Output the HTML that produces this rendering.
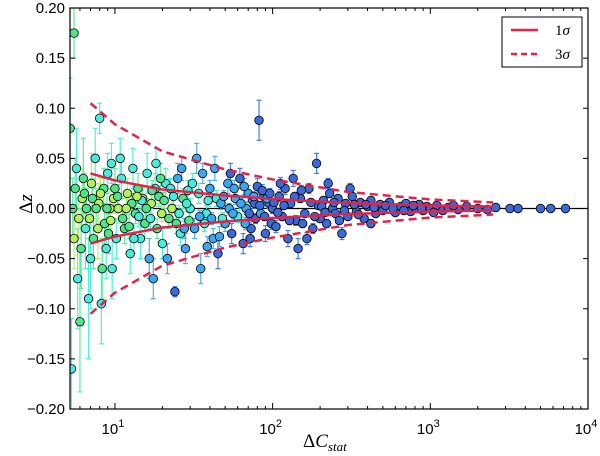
<!DOCTYPE html>
<html><head><meta charset="utf-8"><style>
body{margin:0;background:#fff}
svg{display:block;font-family:"Liberation Sans",sans-serif}
</style></head><body>
<svg id="chart" width="600" height="456" viewBox="0 0 600 456">
<g id="marks"></g>
<g id="axes"></g>
</svg>
<script>
// sigma envelope data
const sigX=[7,10,20,50,100,300,1000,2500];
const sig1=[0.035,0.028,0.019,0.013,0.0095,0.0055,0.003,0.002];
const sig3=[0.105,0.084,0.057,0.039,0.029,0.0165,0.009,0.006];
// observations: [deltaC, deltaZ, error, colourClass]
const obsPoints=[
[5.2,0.08,0.05,3],[5.5,0.175,0.025,3],[5.3,-0.16,0.05,2],[5.8,-0.07,0.05,2],[6,-0.113,0.07,3],[6.2,0.01,0.03,4],[6.5,-0.02,0.04,2],[5.6,0.02,0.03,3],[5.9,-0.01,0.02,4],[6.3,0.03,0.04,3],[6.8,-0.09,0.06,2],[7,-0.05,0.05,2],[7.2,0.01,0.02,3],[7.5,0.05,0.03,2],[7.8,-0.02,0.03,4],[8,0.09,0.015,2],[8.2,-0.095,0.04,2],[8.5,0.02,0.02,3],[8.8,-0.04,0.03,2],[9,0.035,0.02,2],[9.3,0.0,0.02,4],[9.6,-0.06,0.03,2],[10,0.02,0.02,3],[6.6,0.0,0.02,3],[7.3,-0.03,0.03,3],[7.9,0.005,0.02,4],[8.6,-0.015,0.02,3],[9.8,0.01,0.015,4],[6.1,-0.04,0.04,3],[5.4,0.0,0.03,3],[5.7,0.04,0.04,2],[7.1,0.025,0.03,4],[8.3,-0.06,0.03,3],[9.1,-0.025,0.02,3],[9.5,0.045,0.02,2],[10.2,-0.03,0.02,2],
[10.5,0.0,0.015,4],[11,0.03,0.02,2],[11.5,-0.02,0.015,3],[12,0.015,0.015,4],[12.5,-0.045,0.02,2],[13,0.04,0.02,2],[13.5,-0.005,0.01,3],[14,0.02,0.015,3],[14.5,-0.03,0.02,2],[15,0.01,0.01,4],[15.5,-0.015,0.015,3],[16,0.035,0.02,2],[16.5,-0.05,0.02,1],[17,0.005,0.01,4],[17.5,-0.07,0.02,1],[18,0.02,0.015,2],[18.5,-0.02,0.01,3],[19,0.012,0.01,3],[20,-0.035,0.015,2],[21,0.025,0.015,2],[22,-0.01,0.01,3],[23,0.0,0.01,4],[24,-0.083,0.005,0],[25,0.03,0.015,1],[26,-0.025,0.012,2],[27,0.01,0.01,3],[28,-0.04,0.015,1],[29,0.018,0.01,2],[11.2,-0.01,0.01,3],[12.8,0.005,0.01,3],[14.8,0.008,0.01,2],[16.8,-0.01,0.01,2],[19.5,0.03,0.015,3],[22.5,0.02,0.01,2],[24.5,-0.015,0.01,3],[27.5,-0.02,0.01,1],[10.8,0.05,0.02,2],[13.2,-0.03,0.015,2],[18.2,0.045,0.015,2],[21.5,-0.05,0.015,1],
[30,0.0,0.01,2],[32,-0.02,0.01,1],[34,0.015,0.01,2],[35,-0.06,0.015,1],[36,0.035,0.01,1],[38,-0.005,0.008,2],[40,0.02,0.008,1],[42,-0.03,0.01,1],[44,0.01,0.008,2],[45,-0.045,0.015,0],[47,0.005,0.006,1],[50,-0.015,0.008,1],[52,0.025,0.01,1],[55,-0.025,0.01,0],[58,0.01,0.006,1],[60,-0.008,0.006,2],[62,0.03,0.01,0],[65,-0.035,0.01,0],[68,0.0,0.006,1],[70,0.015,0.008,1],[73,-0.02,0.008,0],[75,0.008,0.006,1],[78,-0.01,0.005,0],[80,0.022,0.008,0],[84,-0.005,0.005,1],[88,0.012,0.006,0],[90,-0.025,0.008,0],[95,0.005,0.005,0],[98,-0.015,0.006,0],[31,0.025,0.01,2],[37,-0.015,0.008,2],[43,0.04,0.012,1],[48,-0.01,0.006,2],[57,0.02,0.008,1],[67,-0.015,0.006,1],[77,0.005,0.005,0],[86,0.018,0.006,0],[92,0.01,0.005,1],[33,0.05,0.015,1],[46,-0.028,0.01,1],
[82,0.088,0.02,0],[100,0.0,0.005,0],[105,-0.018,0.006,0],[110,0.012,0.005,0],[115,-0.008,0.004,0],[120,0.02,0.006,0],[125,-0.03,0.008,0],[130,0.005,0.004,0],[140,-0.012,0.005,0],[150,0.01,0.004,0],[160,-0.005,0.003,0],[170,0.02,0.005,0],[180,-0.02,0.005,0],[190,0.045,0.01,0],[195,0.003,0.003,0],[200,-0.01,0.004,0],[210,0.008,0.003,0],[220,-0.015,0.004,0],[230,0.015,0.004,0],[240,0.0,0.003,0],[250,-0.005,0.003,0],[260,0.01,0.003,0],[275,-0.025,0.006,0],[290,0.005,0.003,0],[300,-0.008,0.003,0],[320,0.012,0.003,0],[340,-0.003,0.002,0],[360,0.006,0.003,0],[380,-0.01,0.003,0],[400,0.002,0.002,0],[420,0.008,0.002,0],[450,-0.005,0.002,0],[480,0.004,0.002,0],[500,-0.002,0.002,0],[550,0.006,0.002,0],[600,-0.004,0.002,0],[650,0.002,0.002,0],[700,0.005,0.002,0],[750,-0.003,0.002,0],[800,0.001,0.002,0],[850,0.004,0.002,0],[900,-0.002,0.002,0],[950,0.002,0.001,0],[135,0.03,0.008,0],[165,-0.03,0.006,0],[225,0.025,0.005,0],[310,0.02,0.005,0],[145,-0.04,0.01,0],[420,-0.015,0.004,0],
[1000,0.0,0.001,0],[1100,0.003,0.001,0],[1200,-0.002,0.001,0],[1300,0.001,0.001,0],[1500,-0.001,0.001,0],[1700,0.002,0.001,0],[2000,0.0,0.001,0],[2300,-0.001,0.001,0],[2600,0.001,0.001,0],[3200,0.0,0.001,0],[3600,0.0,0.001,0],[5000,0.0,0.001,0],[5800,0.0,0.001,0],[7200,0.0,0.001,0],[1050,-0.004,0.001,0],[1400,0.003,0.001,0],
[5.5,-0.03,0.03,4],[6.4,0.015,0.02,3],[6.9,-0.01,0.02,4],[7.6,0.0,0.02,3],[8.1,0.015,0.015,4],[8.9,0.0,0.015,3],[9.4,-0.012,0.015,4],[10.4,0.012,0.012,3],[11.8,0.0,0.01,4],[12.3,-0.018,0.012,3],[13.8,0.012,0.01,4],[14.2,-0.008,0.01,2],[15.8,0.0,0.01,3],[17.2,0.018,0.01,3],[19.8,-0.005,0.008,4],[20.5,0.008,0.008,3],[23.5,0.012,0.008,2],[25.5,-0.005,0.008,2],[28.5,0.005,0.008,2],[29.5,-0.012,0.008,3],
[34.5,-0.008,0.006,1],[39,0.008,0.006,2],[41,-0.01,0.006,1],[49,0.012,0.006,1],[53,0.0,0.005,1],[56,-0.005,0.005,1],[63,0.005,0.005,1],[71,-0.005,0.005,0],[76,0.012,0.005,1],[83,0.003,0.004,0],[89,-0.008,0.004,0],[96,0.015,0.005,0],[102,0.006,0.004,0],[108,-0.004,0.003,0],[118,0.003,0.003,0],[128,-0.012,0.004,0],[138,0.012,0.004,0],[155,-0.015,0.004,0],[175,0.006,0.003,0],[185,-0.008,0.003,0],[205,0.002,0.002,0],[215,-0.004,0.002,0],[245,0.006,0.002,0],[265,-0.012,0.003,0],[285,-0.002,0.002,0],[330,0.004,0.002,0],[350,-0.006,0.002,0],[390,0.004,0.002,0],[440,0.001,0.002,0],[520,0.003,0.002,0],[580,0.0,0.002,0],[680,-0.002,0.002,0],[780,0.003,0.002,0],[880,0.0,0.001,0],[26.5,0.04,0.012,1],[38.5,-0.038,0.01,1],[54,0.035,0.01,0],[66,0.022,0.008,1],[72,-0.03,0.008,0],[112,0.025,0.006,0],[152,0.018,0.005,0]
];
const yTicks=[-0.20,-0.15,-0.10,-0.05,0.00,0.05,0.10,0.15,0.20];
const yTickLabels=["\u22120.20","\u22120.15","\u22120.10","\u22120.05","0.00","0.05","0.10","0.15","0.20"];
const xDecades=[1,2,3,4];

const L=70,R=588,T=8,B=409;
const xMinLog=0.715,xMaxLog=4;
const X=v=>L+(Math.log10(v)-xMinLog)/(xMaxLog-xMinLog)*(R-L);
const Y=v=>T+(0.2-v)/0.4*(B-T);
const NS="http://www.w3.org/2000/svg";
function mk(tag,attrs,parent){const e=document.createElementNS(NS,tag);for(const k in attrs)e.setAttribute(k,attrs[k]);parent.appendChild(e);return e;}
const marks=document.getElementById('marks'),axes=document.getElementById('axes');
const fill=["#3a6ad8","#3aa8f0","#48ecdc","#4ee48a","#b4f05a"];
const errc=["#4a7ee8","#50b0f0","#50f0d8","#60e8a0","#b0f070"];
mk('clipPath',{id:'clip'},marks).appendChild(document.createElementNS(NS,'rect'));
const cr=marks.querySelector('clipPath rect');cr.setAttribute('x',L);cr.setAttribute('y',T);cr.setAttribute('width',R-L);cr.setAttribute('height',B-T);
const g=mk('g',{'clip-path':'url(#clip)'},marks);
mk('line',{x1:L,x2:R,y1:Y(0),y2:Y(0),stroke:'#000','stroke-width':1.2},g);

obsPoints.forEach(p=>{
  const x=X(p[0]),y=Y(p[1]),ey=p[2]/0.4*(B-T);
  const eb=mk('path',{d:`M${x} ${y-ey}V${y+ey}M${x-2.5} ${y-ey}h5M${x-2.5} ${y+ey}h5`,stroke:errc[p[3]],'stroke-width':1.2,fill:'none'},g);
  
  
});
obsPoints.forEach(p=>{
  const c=mk('circle',{cx:X(p[0]),cy:Y(p[1]),r:4.3,fill:fill[p[3]],stroke:'#000','stroke-width':0.8},g);
  
  
});
function curve(vals,sign,dash,name){
  const d=sigX.map((v,i)=>(i?'L':'M')+X(v)+' '+Y(sign*vals[i])).join('');
  const p=mk('path',{d,fill:'none',stroke:'#e2234d','stroke-width':2.5},g);
  if(dash)p.setAttribute('stroke-dasharray','8 5');
  
  
}
curve(sig1,1,false,'sigma1-upper');curve(sig1,-1,false,'sigma1-lower');
curve(sig3,1,true,'sigma3-upper');curve(sig3,-1,true,'sigma3-lower');
const fr=mk('rect',{x:L,y:T,width:R-L,height:B-T,fill:'none',stroke:'#000','stroke-width':1.2},axes);


yTicks.forEach((v,i)=>{
  const y=Y(v);
  mk('path',{d:`M${L} ${y}h5M${R} ${y}h-5`,stroke:'#000'},axes);
  const t=mk('text',{x:L-5,y:y+5,'text-anchor':'end','font-size':15},axes);
  t.textContent=yTickLabels[i];
  
  
});
for(let d=0;d<4;d++){for(let m=1;m<10;m++){const v=m*Math.pow(10,d);if(Math.log10(v)<xMinLog||Math.log10(v)>xMaxLog)continue;const x=X(v);const len=m==1?6:3;mk('path',{d:`M${x} ${B}v-${len}M${x} ${T}v${len}`,stroke:'#000'},axes);}}
xDecades.forEach(d=>{
  const t=mk('text',{x:X(Math.pow(10,d))-2,y:B+25,'text-anchor':'middle','font-size':15},axes);
  t.innerHTML='10<tspan dy="-7" font-size="11">'+d+'</tspan>';
  
  
});
</script>
<svg style="position:absolute;left:0;top:0" width="600" height="456">
<text x="32" y="212" transform="rotate(-90 28 208)" font-family="Liberation Serif,serif" font-size="19" text-anchor="middle">Δ<tspan font-style="italic">z</tspan></text>
<text x="303" y="447" font-family="Liberation Serif,serif" font-size="19">Δ<tspan font-style="italic">C</tspan><tspan font-style="italic" font-size="13" dy="4">stat</tspan></text>
<g>
<rect x="502" y="17" width="80" height="50" fill="#fff" stroke="#000" stroke-width="1"/>
<line x1="511" x2="538" y1="30" y2="30" stroke="#e2234d" stroke-width="2.5"/>
<text x="555" y="35" font-family="Liberation Serif,serif" font-size="15">1<tspan font-style="italic">σ</tspan></text>
<line x1="511" x2="538" y1="54" y2="54" stroke="#e2234d" stroke-width="2.5" stroke-dasharray="6 4"/>
<text x="555" y="59" font-family="Liberation Serif,serif" font-size="15">3<tspan font-style="italic">σ</tspan></text>
</g>
</svg>
</body></html>
